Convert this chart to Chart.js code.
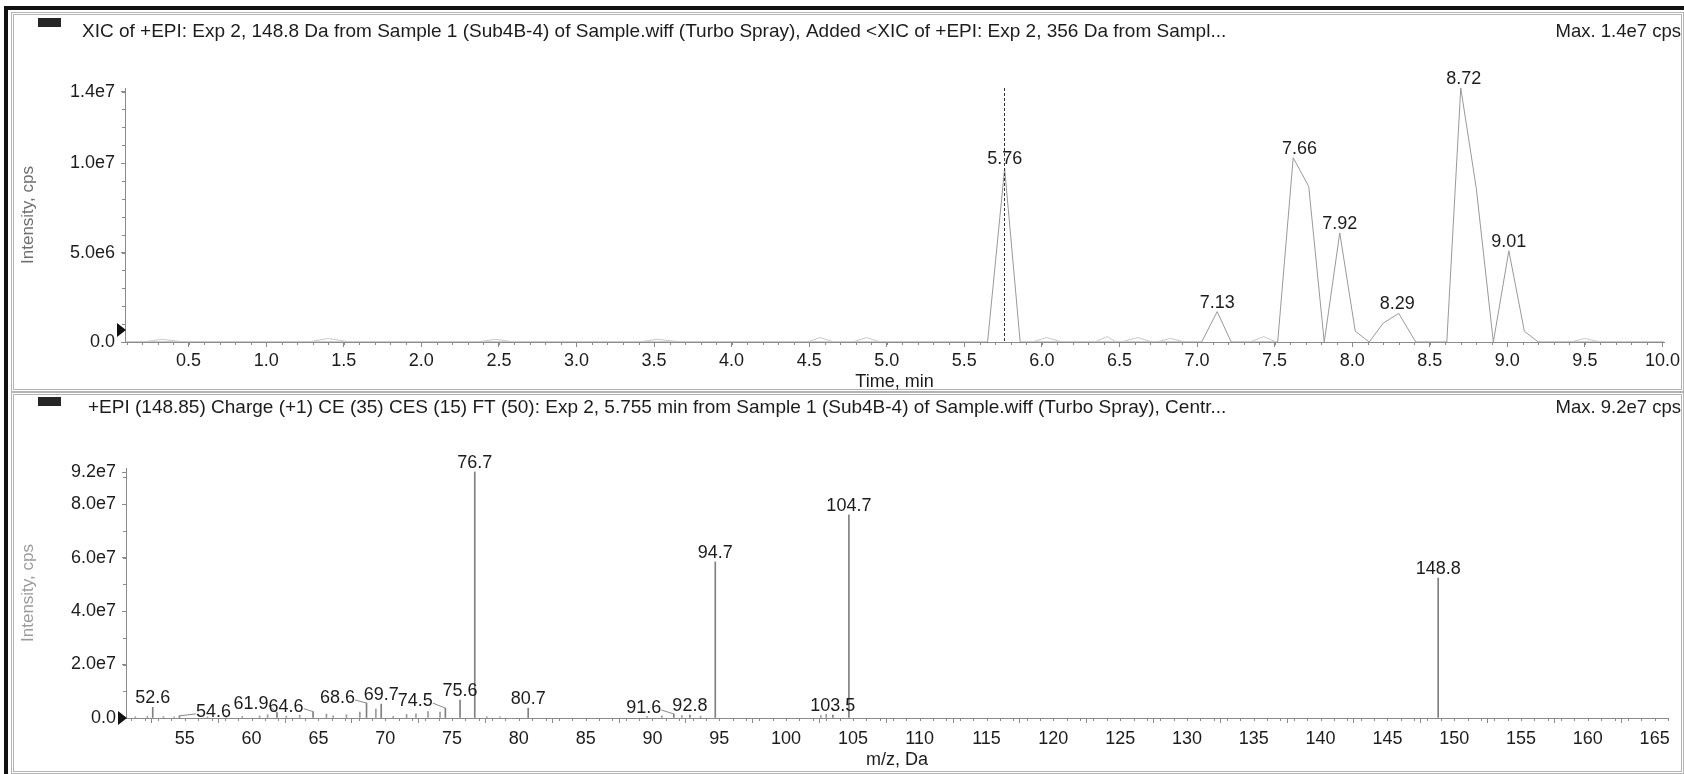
<!DOCTYPE html>
<html>
<head>
<meta charset="utf-8">
<title>XIC and EPI spectrum</title>
<script src="https://cdn.jsdelivr.net/npm/chart.js@4.4.1/dist/chart.umd.min.js"></script>
<style>
  html, body { margin: 0; padding: 0; background: #fff; }
  body { width: 1684px; height: 774px; position: relative; overflow: hidden; }
  .frameTop { position: absolute; left: 4px; top: 6px; width: 1680px; height: 4px; background: #111; }
  .frameLeft { position: absolute; left: 4px; top: 6px; width: 4px; height: 768px; background: #111; }
  .panel { position: absolute; left: 11px; width: 1667px; border: 3px double #b4b4b4; }
  #p1 { top: 12px; height: 374px; }
  #p2 { top: 392px; height: 376px; }
  canvas { position: absolute; left: 0; }
  #xicCanvas { top: 0; }
  #msCanvas { top: 393px; }
</style>
</head>
<body>
<div class="frameTop"></div>
<div class="frameLeft"></div>
<div class="panel" id="p1"></div>
<div class="panel" id="p2"></div>
<canvas id="xicCanvas" width="1684" height="393"></canvas>
<canvas id="msCanvas" width="1684" height="381"></canvas>
<script>
// ---- XIC (top panel) ----
const xicTitle = 'XIC of +EPI: Exp 2, 148.8 Da from Sample 1 (Sub4B-4) of Sample.wiff (Turbo Spray), Added <XIC of +EPI: Exp 2, 356 Da from Sampl...';
const xicMax = 'Max. 1.4e7 cps';
const xicTime = [0.09, 5.65, 5.76, 5.86, 7.03, 7.13, 7.22, 7.52, 7.62, 7.72, 7.82, 7.92, 8.02, 8.11, 8.20, 8.30, 8.41, 8.61, 8.70, 8.80, 8.91, 9.01, 9.11, 9.20, 10.01];
const xicIntensity = [0, 0, 9.7e6, 0, 0, 1.7e6, 0, 0, 1.03e7, 8.7e6, 0, 6.1e6, 6.0e5, 0, 1.05e6, 1.6e6, 0, 0, 1.42e7, 8.6e6, 0, 5.1e6, 6.0e5, 0, 0];
// small humps near the baseline (null = gap)
const bumpTime = [0.20, 0.33, 0.47, 0.5, 1.27, 1.40, 1.54, 1.6, 2.36, 2.48, 2.60, 2.7, 3.40, 3.52, 3.68, 3.7,
  4.49, 4.57, 4.66, 4.7, 4.78, 4.87, 4.96, 5.0, 5.94, 6.03, 6.13, 6.2, 6.34, 6.42, 6.48, 6.51, 6.62, 6.71, 6.74, 6.83, 6.92, 7.0,
  7.34, 7.43, 7.51, 7.55, 9.41, 9.50, 9.60];
const bumpIntensity = [0, 1.5e5, 0, null, 0, 2.0e5, 0, null, 0, 1.5e5, 0, null, 0, 1.5e5, 0, null,
  0, 2.5e5, 0, null, 0, 2.5e5, 0, null, 0, 2.5e5, 0, null, 0, 3.0e5, 0, 0, 2.5e5, 0, 0, 2.0e5, 0, null,
  0, 3.0e5, 0, null, 0, 2.0e5, 0];
const xicPeakLabels = [5.76, 7.13, 7.66, 7.92, 8.29, 8.72, 9.01];
const xicMarkerTime = 5.755;
const xicTimeTicks = [0.5, 1.0, 1.5, 2.0, 2.5, 3.0, 3.5, 4.0, 4.5, 5.0, 5.5, 6.0, 6.5, 7.0, 7.5, 8.0, 8.5, 9.0, 9.5, 10.0];
const xicIntensityTicks = [0, 5e6, 1e7, 1.4e7];

// ---- EPI spectrum (bottom panel) ----
const msTitle = '+EPI (148.85) Charge (+1) CE (35) CES (15) FT (50): Exp 2, 5.755 min from Sample 1 (Sub4B-4) of Sample.wiff (Turbo Spray), Centr...';
const msMax = 'Max. 9.2e7 cps';
const msPeakMz = [52.6, 54.6, 61.9, 64.6, 68.6, 69.7, 74.5, 75.6, 76.7, 80.7, 91.6, 92.8, 94.7, 103.5, 104.7, 148.8];
const msPeakIntensity = [4.0e6, 0.8e6, 2.0e6, 2.4e6, 5.6e6, 5.2e6, 3.7e6, 6.7e6, 9.2e7, 3.7e6, 1.5e6, 1.1e6, 5.84e7, 1.1e6, 7.6e7, 5.23e7];
const msMinorMz = [51.3, 52.2, 53.4, 54.2, 56.7, 58.1, 59.3, 60.6, 61.2, 62.6, 63.6, 65.6, 66.1, 67.1, 68.1, 69.3, 70.6, 71.6, 72.3, 73.2, 74.1, 77.6, 78.6, 89.6, 90.7, 92.2, 93.6, 102.6, 103.0];
const msMinorIntensity = [0.5e6, 0.6e6, 0.5e6, 0.4e6, 0.4e6, 0.5e6, 0.6e6, 0.8e6, 1.2e6, 0.7e6, 1.0e6, 1.5e6, 0.8e6, 1.2e6, 2.2e6, 3.3e6, 0.6e6, 1.3e6, 1.6e6, 2.4e6, 2.2e6, 0.5e6, 0.4e6, 0.5e6, 0.8e6, 0.9e6, 0.7e6, 0.9e6, 1.4e6];
const msMzTicks = [55, 60, 65, 70, 75, 80, 85, 90, 95, 100, 105, 110, 115, 120, 125, 130, 135, 140, 145, 150, 155, 160, 165];
const msIntensityTicks = [0, 2e7, 4e7, 6e7, 8e7, 9.2e7];

// label nudges (px) for crowded peak labels, drawn with a leader line
const msLabelShift = { '54.6': [34, 5], '61.9': [-26, 0], '64.6': [-27, 4], '68.6': [-29, 4], '74.5': [-30, 2], '91.6': [-30, 3] };

const FONT = "'Liberation Sans', Arial, sans-serif";
const TEXT = '#1c1c1c';
const AXIS = '#8a8a8a';

function fmtIntensity(v) {
  return v === 0 ? '0.0' : v.toExponential(1).replace('e+', 'e');
}

const headerPlugin = {
  id: 'header',
  afterDraw(chart, args, o) {
    const ctx = chart.ctx;
    ctx.save();
    ctx.fillStyle = '#262626';
    ctx.fillRect(38, o.swatchY, 23, 9);
    ctx.fillStyle = TEXT;
    ctx.textBaseline = 'middle';
    ctx.textAlign = 'left';
    ctx.font = '19px ' + FONT;
    ctx.fillText(o.text, o.textX, o.textY);
    ctx.textAlign = 'right';
    ctx.font = '18.5px ' + FONT;
    ctx.fillText(o.max, chart.width - 3, o.textY);
    ctx.restore();
  }
};

const axisExtras = {
  id: 'axisExtras',
  afterDraw(chart, args, o) {
    const ctx = chart.ctx;
    const xs = chart.scales.x, ys = chart.scales.y;
    ctx.save();
    ctx.strokeStyle = AXIS;
    ctx.lineWidth = 1;
    ctx.beginPath();
    for (let i = Math.ceil(xs.min / o.xStep); i * o.xStep <= xs.max + 1e-9; i++) {
      const px = Math.round(xs.getPixelForValue(i * o.xStep)) + 0.5;
      ctx.moveTo(px, xs.top); ctx.lineTo(px, xs.top + 3);
    }
    for (let i = 1; i * o.yStep <= ys.max; i++) {
      const py = Math.round(ys.getPixelForValue(i * o.yStep)) + 0.5;
      ctx.moveTo(ys.right, py); ctx.lineTo(ys.right - 3, py);
    }
    ctx.stroke();
    // zero marker
    const cy = ys.getPixelForValue(0) + o.markerShift;
    ctx.fillStyle = '#111';
    ctx.beginPath();
    ctx.moveTo(ys.right - 8, cy - 7);
    ctx.lineTo(ys.right + 1, cy);
    ctx.lineTo(ys.right - 8, cy + 7);
    ctx.closePath();
    ctx.fill();
    ctx.restore();
  }
};

const xicLabels = {
  id: 'xicLabels',
  afterDraw(chart) {
    const ctx = chart.ctx;
    const xs = chart.scales.x, ys = chart.scales.y;
    ctx.save();
    // current spectrum position
    const mx = Math.round(xs.getPixelForValue(xicMarkerTime)) + 0.5;
    ctx.strokeStyle = '#333';
    ctx.setLineDash([3, 2]);
    ctx.beginPath();
    ctx.moveTo(mx, chart.chartArea.top);
    ctx.lineTo(mx, chart.chartArea.bottom);
    ctx.stroke();
    ctx.setLineDash([]);
    ctx.font = '18px ' + FONT;
    ctx.fillStyle = TEXT;
    ctx.textAlign = 'center';
    ctx.textBaseline = 'alphabetic';
    xicPeakLabels.forEach(t => {
      let top = 0;
      xicTime.forEach((x, i) => { if (Math.abs(x - t) <= 0.1) top = Math.max(top, xicIntensity[i]); });
      ctx.fillText(t.toFixed(2), xs.getPixelForValue(t), ys.getPixelForValue(top) - 4);
    });
    ctx.restore();
  }
};

const msLabels = {
  id: 'msLabels',
  afterDraw(chart) {
    const ctx = chart.ctx;
    const xs = chart.scales.x, ys = chart.scales.y;
    ctx.save();
    ctx.font = '18px ' + FONT;
    ctx.fillStyle = TEXT;
    ctx.strokeStyle = '#888';
    ctx.lineWidth = 1;
    ctx.textAlign = 'center';
    ctx.textBaseline = 'alphabetic';
    msPeakMz.forEach((mz, i) => {
      const txt = mz.toFixed(1);
      const px = xs.getPixelForValue(mz);
      const py = ys.getPixelForValue(msPeakIntensity[i]);
      const sh = msLabelShift[txt] || [0, 0];
      const lx = px + sh[0], ly = py - 4 + sh[1];
      ctx.fillText(txt, lx, ly);
      if (sh[0] !== 0) {
        const w = ctx.measureText(txt).width;
        const ex = sh[0] > 0 ? lx - w / 2 : lx + w / 2;
        ctx.beginPath();
        ctx.moveTo(ex, ly - 3);
        ctx.lineTo(px, py);
        ctx.stroke();
      }
    });
    ctx.restore();
  }
};

function scaleCommon(width) {
  return {
    y: {
      type: 'linear',
      min: 0,
      afterFit: s => { s.width = width; },
      border: { display: true, color: AXIS, width: 1 },
      grid: { display: true, drawOnChartArea: false, drawTicks: true, tickLength: 4, color: AXIS },
      ticks: { autoSkip: false, padding: 6, color: TEXT, font: { family: FONT, size: 18 }, callback: v => fmtIntensity(v) },
      title: { display: true, text: 'Intensity, cps', font: { family: FONT, size: 17 }, padding: { top: 18, bottom: 0 } }
    },
    x: {
      type: 'linear',
      offset: false,
      border: { display: true, color: AXIS, width: 1 },
      grid: { display: true, drawOnChartArea: false, drawTicks: true, tickLength: 5, color: AXIS },
      ticks: { autoSkip: false, maxRotation: 0, color: TEXT, font: { family: FONT, size: 18 } },
      title: { display: true, color: TEXT, font: { family: FONT, size: 18 } }
    }
  };
}

// top: chromatogram
const xicScales = scaleCommon(125);
xicScales.y.max = 1.42e7;
xicScales.y.afterBuildTicks = s => { s.ticks = xicIntensityTicks.map(v => ({ value: v })); };
xicScales.y.title.color = '#6e6e6e';
xicScales.x.min = 0.09;
xicScales.x.max = 10.01;
xicScales.x.afterFit = s => { s.height = 51; };
xicScales.x.afterBuildTicks = s => { s.ticks = xicTimeTicks.map(v => ({ value: v })); };
xicScales.x.ticks.padding = 3;
xicScales.x.ticks.callback = v => v.toFixed(1);
xicScales.x.title.text = 'Time, min';
xicScales.x.title.padding = { top: 0, bottom: 0 };

new Chart(document.getElementById('xicCanvas'), {
  type: 'line',
  data: {
    datasets: [
      {
        label: 'baseline',
        data: bumpTime.map((t, i) => ({ x: t, y: bumpIntensity[i] })),
        borderColor: '#c8c8c8',
        borderWidth: 1,
        pointRadius: 0,
        spanGaps: false,
        tension: 0
      },
      {
        label: 'XIC',
        data: xicTime.map((t, i) => ({ x: t, y: xicIntensity[i] })),
        borderColor: '#999999',
        borderWidth: 1,
        pointRadius: 0,
        tension: 0
      }
    ]
  },
  options: {
    responsive: false,
    animation: false,
    layout: { padding: { left: 0, right: 20, top: 88, bottom: 0 } },
    scales: xicScales,
    plugins: {
      legend: { display: false },
      tooltip: { enabled: false },
      header: { text: xicTitle, max: xicMax, textX: 82, textY: 31.5, swatchY: 18 },
      axisExtras: { xStep: 0.1, yStep: 1e6, markerShift: -12 }
    }
  },
  plugins: [headerPlugin, axisExtras, xicLabels]
});

// bottom: product ion spectrum
const msScales = scaleCommon(126);
msScales.y.max = 9.35e7;
msScales.y.afterBuildTicks = s => { s.ticks = msIntensityTicks.map(v => ({ value: v })); };
msScales.y.title.color = '#9a9a9a';
msScales.x.min = 50.6;
msScales.x.max = 166;
msScales.x.afterFit = s => { s.height = 56; };
msScales.x.afterBuildTicks = s => { s.ticks = msMzTicks.map(v => ({ value: v })); };
msScales.x.ticks.padding = 5;
msScales.x.ticks.callback = v => String(v);
msScales.x.title.text = 'm/z, Da';
msScales.x.title.padding = { top: 0, bottom: 3 };

new Chart(document.getElementById('msCanvas'), {
  type: 'bar',
  data: {
    datasets: [
      {
        label: 'minor ions',
        data: msMinorMz.map((m, i) => ({ x: m, y: msMinorIntensity[i] })),
        backgroundColor: '#9a9a9a',
        barThickness: 1,
        grouped: false
      },
      {
        label: 'labelled ions',
        data: msPeakMz.map((m, i) => ({ x: m, y: msPeakIntensity[i] })),
        backgroundColor: '#808080',
        barThickness: 1,
        grouped: false
      }
    ]
  },
  options: {
    responsive: false,
    animation: false,
    layout: { padding: { left: 0, right: 16, top: 75, bottom: 0 } },
    scales: msScales,
    plugins: {
      legend: { display: false },
      tooltip: { enabled: false },
      header: { text: msTitle, max: msMax, textX: 88, textY: 14.5, swatchY: 4 },
      axisExtras: { xStep: 1, yStep: 1e7, markerShift: 0 }
    }
  },
  plugins: [headerPlugin, axisExtras, msLabels]
});
</script>
</body>
</html>
